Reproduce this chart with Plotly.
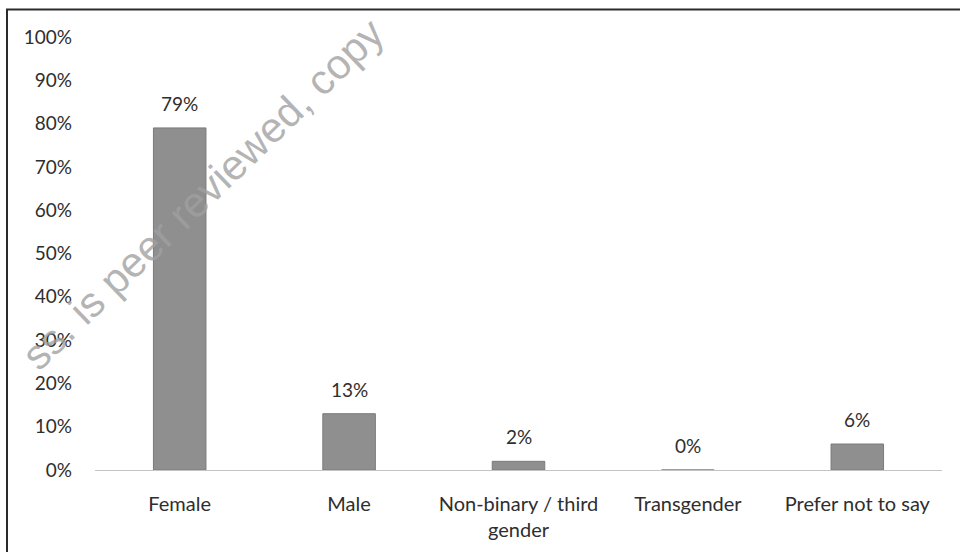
import plotly.graph_objects as go

# Survey responses by gender identity (percent of respondents)
categories = ["Female", "Male", "Non-binary / third<br>gender", "Transgender", "Prefer not to say"]
percentages = [79, 13, 2, 0, 6]
y_ticks = list(range(0, 101, 10))
y_tick_labels = [f"{t}%" for t in y_ticks]
value_labels = [f"{v}%" for v in percentages]

W, H = 960, 552
M_L, M_R, M_T, M_B = 95, 18, 37, 82
plot_w = W - M_L - M_R
plot_h = H - M_T - M_B

BAR_COLOR = "#8f8f8f"
TEXT_COLOR = "#2e2e2e"
FONT = "Lato, 'Open Sans', sans-serif"

fig = go.Figure()
fig.add_trace(go.Bar(
    x=categories,
    y=percentages,
    marker=dict(color=BAR_COLOR, line=dict(color="#7a7a7a", width=1)),
    hoverinfo="skip",
))

# Value labels above each bar
for cat, val, lab in zip(categories, percentages, value_labels):
    fig.add_annotation(
        x=cat, y=val, text=lab, showarrow=False,
        xref="x", yref="y", yanchor="bottom", yshift=11,
        font=dict(family=FONT, size=19, color=TEXT_COLOR),
    )

def px_to_paper_x(px):
    return (px - M_L) / plot_w

def px_to_paper_y(py):
    return (H - M_B - py) / plot_h

# Outer frame: top and left edges
fig.add_shape(type="line", xref="paper", yref="paper",
              x0=px_to_paper_x(6), x1=px_to_paper_x(W + 5),
              y0=px_to_paper_y(9.5), y1=px_to_paper_y(9.5),
              line=dict(color="#2b2b2b", width=2))
fig.add_shape(type="line", xref="paper", yref="paper",
              x0=px_to_paper_x(7), x1=px_to_paper_x(7),
              y0=px_to_paper_y(9), y1=px_to_paper_y(H + 5),
              line=dict(color="#2b2b2b", width=2))

# Diagonal preprint notice
fig.add_annotation(
    x=px_to_paper_x(202), y=px_to_paper_y(194), xref="paper", yref="paper",
    text="ss. is peer reviewed, copy", showarrow=False, textangle=-44,
    font=dict(family="'Liberation Sans', Arial, sans-serif", size=42, color="rgba(160,160,160,0.78)"),
    xanchor="center", yanchor="middle",
)

fig.update_layout(
    width=W, height=H,
    margin=dict(l=M_L, r=M_R, t=M_T, b=M_B, pad=0),
    paper_bgcolor="white", plot_bgcolor="white",
    showlegend=False,
    bargap=0.69,
    font=dict(family=FONT, size=19, color=TEXT_COLOR),
    xaxis=dict(
        showgrid=False, zeroline=False,
        showline=True, linecolor="#c4c4c4", linewidth=1,
        ticks="", ticklabelstandoff=16,
        tickfont=dict(family=FONT, size=20, color=TEXT_COLOR),
    ),
    yaxis=dict(
        range=[0, 100], showgrid=False, zeroline=False, showline=False,
        tickmode="array", tickvals=y_ticks, ticktext=y_tick_labels,
        ticks="", ticklabelstandoff=22,
        tickfont=dict(family=FONT, size=19, color=TEXT_COLOR),
    ),
)

fig.write_html("out.html")
